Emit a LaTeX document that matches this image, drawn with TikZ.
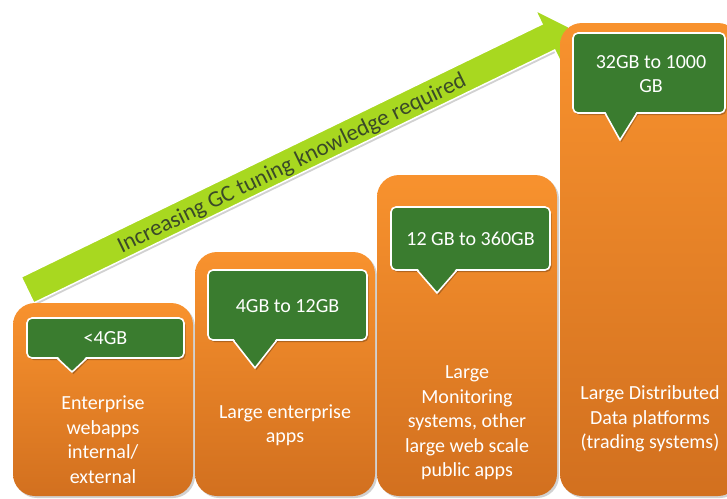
\documentclass[tikz,border=0pt]{standalone}
\usepackage{fontspec}
\setmainfont{Carlito}
\definecolor{tierTop}{HTML}{F8922E}
\definecolor{tierBottom}{HTML}{D2701F}
\definecolor{calloutGreen}{HTML}{3A7C2F}
\definecolor{arrowLime}{HTML}{A8D820}
\definecolor{arrowInk}{HTML}{3A4A28}

% green speech-bubble: rectangle x1,y1,x2,y2 with a pointer (left base, tip x, tip y, right base)
\newcommand\gbcallout[8]{%
  \fill[black, opacity=0.25, rounded corners=5pt] ({#1+1.5},{#2+2}) rectangle ({#3+1.5},{#4+2});
  \fill[black, opacity=0.25] ({#5+1.5},{#4+1}) -- ({#6+1.5},{#7+2}) -- ({#8+1.5},{#4+1}) -- cycle;
  \path[bubble] (#1,#2) rectangle (#3,#4);
  \fill[calloutGreen] (#5,{#4-2.2}) -- (#6,#7) -- (#8,{#4-2.2}) -- cycle;
  \draw[white, line width=1.6pt, line join=round] (#5,#4) -- (#6,#7) -- (#8,#4);
}

\begin{document}
\begin{tikzpicture}[x=1pt, y=-1pt,
  tier/.style={rounded corners=22pt, top color=tierTop, bottom color=tierBottom,
    inner sep=0pt, outer sep=0pt},
  tiershadow/.style={fill=black, opacity=0.18, rounded corners=22pt},
  bubble/.style={fill=calloutGreen, draw=white, line width=1.6pt, rounded corners=5pt},
  sizetext/.style={text=white, align=center, font=\fontsize{20}{24.5}\selectfont},
  tiertext/.style={text=white, align=center, font=\fontsize{20}{24.5}\selectfont},
  trend/.style={fill=arrowLime, draw=white, line width=1.5pt, line join=miter},
]
\useasboundingbox (0,0) rectangle (727,498);
\clip (0,0) rectangle (727,498);

% trend arrow
\fill[black, opacity=0.18] (23.2,279) -- (544,26.1) -- (537.3,12.1) -- (571.1,29) -- (563.5,66.1) -- (556.7,52.1) -- (35.8,305) -- cycle;
\path[trend] (21.2,277) -- (542,24.1) -- (535.3,10.1) -- (569.1,27) -- (561.5,64.1) -- (554.7,50.1) -- (33.8,303) -- cycle;
\node[rotate=25.9, text=arrowInk, font=\fontsize{23}{23}\selectfont, inner sep=0pt] (gc) at (292,164)
  {Increasing GC tuning knowledge required};

% tier shadows
\fill[tiershadow] (15,305) rectangle (195,498);
\fill[tiershadow] (197,254) rectangle (377,498);
\fill[tiershadow] (379,177) rectangle (559,498);
\fill[tiershadow] (562,25) rectangle (742,498);

% tiers
\node[tier, minimum width=180pt, minimum height=193pt] (t1) at (103,399.5) {};
\node[tier, minimum width=180pt, minimum height=244pt] (t2) at (285,374) {};
\node[tier, minimum width=180pt, minimum height=321pt] (t3) at (467,335.5) {};
\node[tier, minimum width=180pt, minimum height=473pt] (t4) at (650,259.5) {};

% heap size bubbles
\gbcallout{27}{318}{184}{358}{57}{72}{372}{87}
\gbcallout{208}{270}{367}{340}{233}{255}{368}{277}
\gbcallout{391}{207}{550}{270}{417}{437}{293}{457}
\gbcallout{573}{33}{725}{113}{605}{620}{140}{637}

\node[sizetext] (s1) at (105.5,338) {<4GB};
\node[sizetext] (s2) at (287.5,306) {4GB to 12GB};
\node[sizetext] (s3) at (470.5,239) {12 GB to 360GB};
\node[sizetext] (s4) at (651,74) {32GB to 1000\\GB};

% workload descriptions
\node[tiertext] (d1) at (103,439.5) {Enterprise\\webapps\\internal/\\external};
\node[tiertext] (d2) at (285,425) {Large enterprise\\apps};
\node[tiertext] (d3) at (467,423) {Large\\Monitoring\\systems, other\\large web scale\\public apps};
\node[tiertext] (d4) at (650,419) {Large Distributed\\Data platforms\\(trading systems)};
\end{tikzpicture}
\end{document}
